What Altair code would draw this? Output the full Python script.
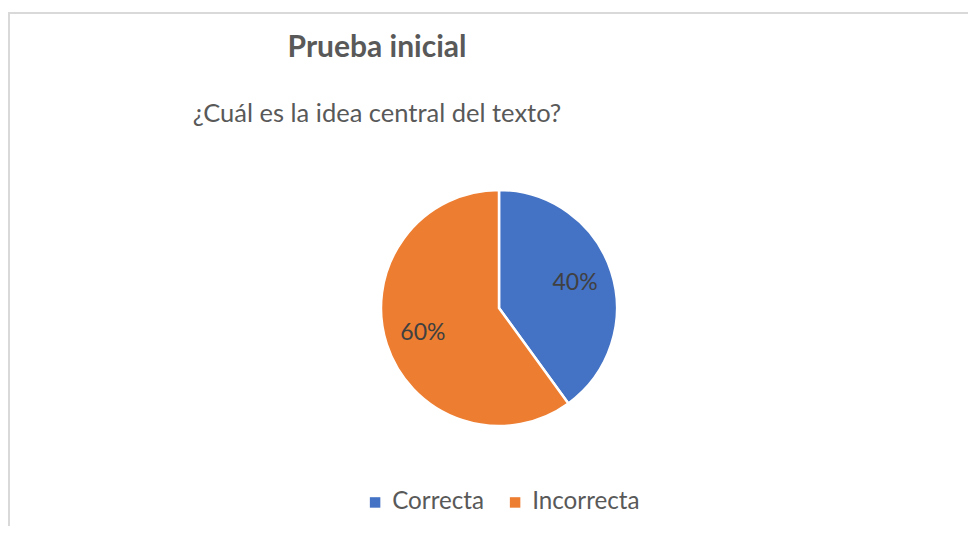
import altair as alt
import pandas as pd

# Data
categories = ["Correcta", "Incorrecta"]
values = [40, 60]
labels = ["40%", "60%"]
order = [0, 1]
colors = ["#4472C4", "#ED7D31"]

df = pd.DataFrame({"categoria": categories, "valor": values, "etiqueta": labels, "orden": order})

W, H = 960, 513
CX, CY = 491, 295
R = 118
FONT = "Lato"

base = alt.Chart(df).encode(
    theta=alt.Theta("valor:Q", stack=True),
    order=alt.Order("orden:Q"),
)

pie = base.mark_arc(radius=R, stroke="white", strokeWidth=2.5).encode(
    color=alt.Color(
        "categoria:N",
        scale=alt.Scale(domain=categories, range=colors),
        legend=alt.Legend(
            title=None,
            orient="none",
            direction="horizontal",
            legendX=355,
            legendY=477,
            symbolType="square",
            symbolSize=110,
            symbolStrokeWidth=0,
            labelFont=FONT,
            labelFontSize=24.2,
            labelColor="#595959",
            labelOffset=5,
            columnPadding=19,
        ),
    ),
    x=alt.value(CX),
    y=alt.value(CY),
)

text = base.mark_text(radius=80, font=FONT, fontSize=23, color="#404040").encode(
    text="etiqueta:N",
    x=alt.value(CX),
    y=alt.value(CY),
)

top_border = alt.Chart(df).mark_rule(color="#d9d9d9", strokeWidth=2).encode(
    x=alt.value(0), x2=alt.value(W), y=alt.value(0)
)
left_border = alt.Chart(df).mark_rule(color="#d9d9d9", strokeWidth=2).encode(
    x=alt.value(1), y=alt.value(0), y2=alt.value(H)
)

chart = (
    alt.layer(top_border, left_border, pie, text)
    .properties(
        width=W,
        height=H,
        padding={"left": 0, "top": 5, "right": 0, "bottom": 0},
        autosize=alt.AutoSizeParams(type="none"),
        title=alt.TitleParams(
            text="Prueba inicial",
            subtitle="¿Cuál es la idea central del texto?",
            anchor="middle",
            orient="top",
            dx=-111,
            dy=119,
            font=FONT,
            fontSize=30,
            fontWeight="bold",
            color="#595959",
            subtitleFont=FONT,
            subtitleFontSize=25.5,
            subtitleColor="#595959",
            subtitlePadding=39,
        ),
    )
    .configure_view(strokeWidth=0)
)

chart.save("out.html", embed_options={"renderer": "svg", "actions": False})
